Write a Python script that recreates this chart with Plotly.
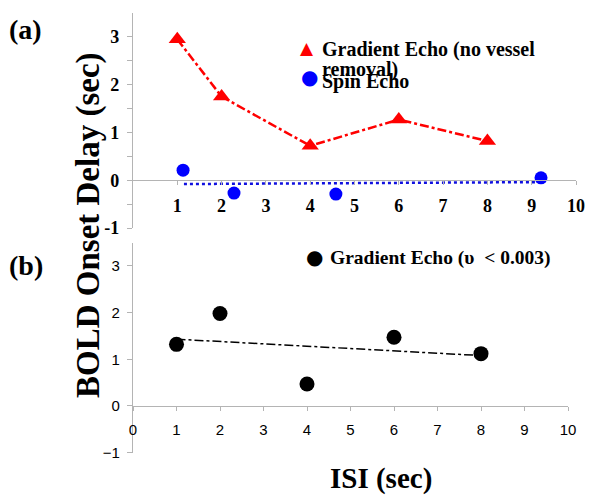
import plotly.graph_objects as go

# ---- data ----
ge_x = [1, 2, 4, 6, 8]
ge_y = [2.95, 1.75, 0.72, 1.27, 0.82]

se_x = [1.13, 2.28, 4.58, 9.21]
se_y = [0.21, -0.27, -0.29, 0.05]
se_trend_x = [1.15, 9.1]
se_trend_y = [-0.08, -0.04]

gb_x = [1, 2, 4, 6, 8]
gb_y = [1.32, 1.98, 0.47, 1.47, 1.12]
gb_trend_x = [1.0, 8.0]
gb_trend_y = [1.43, 1.08]

a_xticks = [1, 2, 3, 4, 5, 6, 7, 8, 9, 10]
b_xticks = [0, 1, 2, 3, 4, 5, 6, 7, 8, 9, 10]
a_yticks = [-1, -0.5, 0, 0.5, 1, 1.5, 2, 2.5, 3]
a_ytext = ["-1", "", "0", "", "1", "", "2", "", "3"]
b_yticks = [-1, 0, 1, 2, 3]

W, H = 600, 499
def px(x): return x / W
def py(y): return 1 - y / H

SERIF = "Liberation Serif"
SANS = "Liberation Sans"
AX = "#b4b4b4"

fig = go.Figure()

fig.add_trace(go.Scatter(x=ge_x, y=ge_y, mode="lines+markers", xaxis="x", yaxis="y",
                         line=dict(color="#ff0000", width=2.5, dash="dashdot"),
                         marker=dict(symbol="triangle-up", size=15, color="#ff0000"),
                         showlegend=False))
fig.add_trace(go.Scatter(x=se_trend_x, y=se_trend_y, mode="lines", xaxis="x", yaxis="y",
                         line=dict(color="#1010e0", width=2.5, dash="dot"), showlegend=False))
fig.add_trace(go.Scatter(x=se_x, y=se_y, mode="markers", xaxis="x", yaxis="y",
                         marker=dict(symbol="circle", size=13, color="#0000ff"), showlegend=False))

fig.add_trace(go.Scatter(x=gb_trend_x, y=gb_trend_y, mode="lines", xaxis="x2", yaxis="y2",
                         line=dict(color="black", width=1.5, dash="dashdot"), showlegend=False))
fig.add_trace(go.Scatter(x=gb_x, y=gb_y, mode="markers", xaxis="x2", yaxis="y2",
                         marker=dict(symbol="circle", size=15, color="black"), showlegend=False))

# panel geometry
a_top, a_bot = py(13), py(228)
b_top, b_bot = py(242.5), py(452.7)
a_zero = a_bot + (a_top - a_bot) * (1 / 4.5)
b_zero = b_bot + (b_top - b_bot) * (1 / 4.5)

fig.update_layout(
    width=W, height=H, margin=dict(l=0, r=0, t=0, b=0, pad=0),
    plot_bgcolor="white", paper_bgcolor="white", showlegend=False,
    xaxis=dict(domain=[px(133), px(576)], range=[0, 10], anchor="free", position=a_zero,
               automargin=False,
               showline=True, linecolor=AX, linewidth=1.2, showgrid=False, zeroline=False,
               tickvals=a_xticks, ticks="outside", ticklen=4, tickcolor=AX,
               ticklabelstandoff=5,
               tickfont=dict(family=SERIF, size=18, color="black", weight="bold")),
    yaxis=dict(domain=[a_bot, a_top], range=[-1, 3.5], anchor="x", automargin=False,
               showline=True, linecolor=AX, linewidth=1.2, showgrid=False, zeroline=False,
               tickvals=a_yticks, ticktext=a_ytext, ticks="outside", ticklen=5, tickcolor=AX,
               ticklabelstandoff=4,
               tickfont=dict(family=SERIF, size=18, color="black", weight="bold")),
    xaxis2=dict(domain=[px(133), px(568)], range=[0, 10], anchor="free", position=b_zero,
                automargin=False,
                showline=True, linecolor=AX, linewidth=1.2, showgrid=False, zeroline=False,
                tickvals=b_xticks, ticks="outside", ticklen=4, tickcolor=AX,
                ticklabelstandoff=6,
                tickfont=dict(family=SANS, size=15, color="black")),
    yaxis2=dict(domain=[b_bot, b_top], range=[-1, 3.5], anchor="x2", automargin=False,
                showline=True, linecolor=AX, linewidth=1.2, showgrid=False, zeroline=False,
                tickvals=b_yticks, ticks="outside", ticklen=5, tickcolor=AX,
                ticklabelstandoff=4,
                tickfont=dict(family=SANS, size=15, color="black")),
)

def ann(text, x, y, size, color="black", xanchor="left", family=SERIF, angle=0, bold=True):
    fig.add_annotation(text=text, x=px(x), y=py(y), xref="paper", yref="paper",
                       xanchor=xanchor, yanchor="middle", showarrow=False, textangle=angle,
                       align="left", borderpad=0,
                       font=dict(family=family, size=size, color=color,
                                 weight="bold" if bold else "normal"))

ann("(a)", 8, 30, 28)
ann("(b)", 8, 265, 28)
ann("BOLD Onset Delay (sec)", 88, 225, 33, xanchor="center", angle=-90)
ann("ISI (sec)", 381, 478, 29, xanchor="center")

# legend (a)
ann("▲", 307, 48, 17, color="#ff0000", xanchor="center", family="DejaVu Sans", bold=False)
ann("Gradient Echo (no vessel", 321, 50, 20)
ann("removal)", 321, 69, 20)
ann("●", 309, 77, 20, color="#0000ff", xanchor="center", family="DejaVu Sans", bold=False)
ann("Spin Echo", 321, 82, 20)

# legend (b)
ann("●", 314, 257, 20, color="black", xanchor="center", family="DejaVu Sans", bold=False)
ann("Gradient Echo (υ  < 0.003)", 329, 258, 19.5)

fig.write_html("out.html", config={"displayModeBar": False},
               post_script="document.body.style.margin='0';")
